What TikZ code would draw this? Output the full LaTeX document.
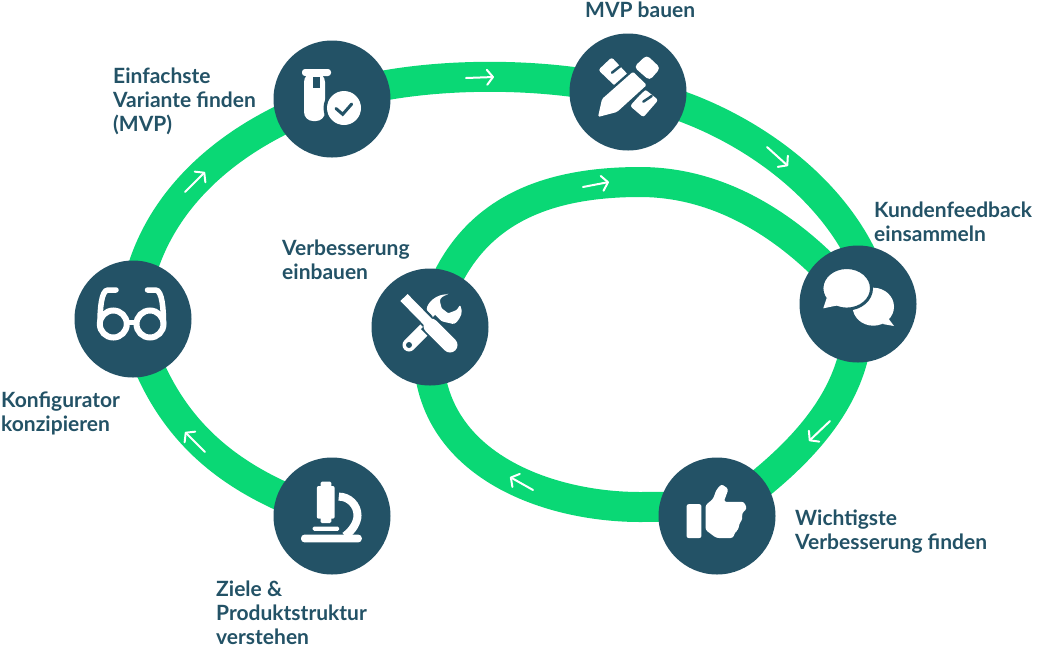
\documentclass[tikz,border=0pt]{standalone}
\usepackage{fontspec}
\setmainfont{Lato}
\usetikzlibrary{arrows.meta,backgrounds}
\definecolor{teal}{HTML}{235266}
\definecolor{loopgreen}{HTML}{0AD875}
\tikzset{
  stage/.style={circle, fill=teal, minimum size=117pt, inner sep=0pt},
  ring/.style={draw=loopgreen, line width=30pt},
  flow/.style={-{Straight Barb[length=6pt, width=15pt, round]}, draw=white, line width=2pt, line cap=round},
  stagetxt/.style={text=teal, font=\fontsize{21}{24}\selectfont\bfseries, align=left, inner sep=0pt, anchor=west},
  icon/.style={fill=white, draw=none},
  iconline/.style={draw=white, fill=none, line cap=round},
  cutline/.style={draw=teal, fill=none, line cap=round},
}
\newcommand{\icontube}[1]{\begin{scope}[shift={(#1.center)}]
  \fill[icon, rounded corners=3pt] (-30,-30) rectangle (-1,-23);
  \fill[icon, rounded corners=9pt] (-28,-26) rectangle (-7,22);
  \fill[teal] (-19,-22) rectangle (-12,-11);
  \fill[teal] (12,9) circle[radius=20.5];
  \fill[icon] (12,9) circle[radius=17];
  \draw[cutline, line width=3pt] (4,9.5) -- (10.7,15.3) -- (19.7,5);
\end{scope}}
\newcommand{\iconpencil}[1]{\begin{scope}[shift={(#1.center)}]
  \fill[icon, rounded corners=2.5pt] (-29.7,-22) -- (-16.3,-34.7) -- (0.3,-17) -- (-13,-6) -- cycle;
  \draw[cutline, line width=2.5pt] (-16,-19.3) -- (-6.3,-27);
  \fill[icon, rounded corners=2.5pt] (2,14) -- (17,-2.7) -- (30.3,8) -- (15.3,25.3) -- cycle;
  \draw[cutline, line width=2.5pt] (15.3,9.7) -- (23.7,4);
  \fill[teal] (-27.6,5.1) -- (3.4,-22.2) -- (20.5,-5) -- (-9.2,22) -- cycle;
  \fill[icon, rounded corners=1.5pt] (-26,7) -- (5,-20.3) -- (18.7,-7) -- (-11,20) -- (-30,25) -- cycle;
  \fill[icon, rounded corners=4pt] (6,-25) -- (18.7,-37) -- (32.5,-24) -- (21.5,-11.5) -- cycle;
\end{scope}}
\newcommand{\iconchat}[1]{\begin{scope}[shift={(#1.center)}]
  \fill[icon] (15.3,2.7) ellipse[x radius=20.7, y radius=19];
  \fill[icon] (30.3,14.3) -- (36,22) -- (24.7,20) -- cycle;
  \filldraw[fill=white, draw=teal, line width=3pt] (-11.3,-15.7) ellipse[x radius=24.8, y radius=20.8];
  \fill[icon] (-31.3,-6) -- (-34.7,4.3) -- (-21,1.5) -- cycle;
\end{scope}}
\newcommand{\iconthumb}[1]{\begin{scope}[shift={(#1.center)}]
  \fill[icon, rounded corners=2pt] (-30.4,-11.8) rectangle (-15.6,22);
  \fill[icon, rounded corners=2.5pt] (-11.5,-10.8) -- (-4,-17) -- (-0.7,-26) -- (4.4,-32) -- (11.5,-27) -- (6.8,-14.2)
    -- (27,-14.2) -- (30,-7.4) -- (24.7,-2.4) -- (25.7,2.7) -- (22.3,7.8) -- (21.3,13.9) -- (17.9,16.2)
    -- (16.2,22) -- (-0.7,22) -- (-11.5,13.9) -- cycle;
\end{scope}}
\newcommand{\icontools}[1]{\begin{scope}[shift={(#1.center)}]
  \draw[iconline, line width=13pt] (-21,18) -- (2,-5);
  \fill[teal] (-21,18) circle[radius=3];
  \fill[icon, rounded corners=1pt] (18.3,-32.7) .. controls (13,-31) and (10,-29) .. (10,-25.3) -- (11.7,-18.7)
    -- (18.3,-13.7) -- (26.7,-17) -- (30,-22) .. controls (32,-18) and (32,-15) .. (31,-12)
    .. controls (29,-7) and (26,-4) .. (23.3,-3) -- (13.3,-5.3) -- (5,-8.7) -- (-3.3,-17)
    .. controls (-3,-24) and (6,-33) .. (18.3,-32.7) -- cycle;
  \draw[cutline, line width=14pt, line cap=butt] (-26,-29) -- (-2,-5);
  \draw[cutline, line width=20pt, line cap=butt] (-2,-5) -- (24,21);
  \draw[iconline, line width=10pt, line cap=butt] (-26,-29.5) -- (-2,-5);
  \draw[iconline, line width=15pt] (1,-1) -- (20,18);
\end{scope}}
\newcommand{\iconglasses}[1]{\begin{scope}[shift={(#1.center)}]
  \draw[iconline, line width=6pt] (-19.7,5) circle[radius=13.5];
  \draw[iconline, line width=6pt] (17,5) circle[radius=13.5];
  \draw[iconline, line width=5pt] (-6,3) -- (3.5,3);
  \draw[iconline, line width=5.5pt] (-33,4) .. controls (-33,-8) and (-32,-29) .. (-25,-29) -- (-17,-29);
  \draw[iconline, line width=5.5pt] (30.5,4) .. controls (30.5,-8) and (29.5,-29) .. (22.5,-29) -- (14.5,-29);
\end{scope}}
\newcommand{\iconscope}[1]{\begin{scope}[shift={(#1.center)}]
  \fill[icon, rounded corners=2pt] (-15.2,-30) rectangle (2.7,2.7);
  \fill[icon, rounded corners=1.5pt] (-11.5,-34.5) rectangle (-0.7,7.1);
  \fill[icon, rounded corners=1.5pt] (-19.3,10.5) rectangle (7.1,14.9);
  \fill[icon, rounded corners=3.5pt] (-31,18.6) rectangle (29.8,26.4);
  \draw[iconline, line width=8pt, line cap=butt] (6.8,-19.4) .. controls (17,-19.4) and (25.5,-11) .. (25.5,-0.7)
    .. controls (25.5,6) and (21,14) .. (13,20);
\end{scope}}

\begin{document}
\begin{tikzpicture}[x=1pt, y=-1pt]
  \useasboundingbox (0,0) rectangle (1045,649);

  \node[stage] (scope)    at (332,516) {};
  \node[stage] (glasses)  at (133,319) {};
  \node[stage] (tube)     at (332, 99) {};
  \node[stage] (pencil)   at (628, 92) {};
  \node[stage] (chat)     at (858,304) {};
  \node[stage] (thumb)    at (717,516) {};
  \node[stage] (tools)    at (430,327) {};

  \begin{scope}[on background layer]
    \draw[ring] (scope.center) .. controls (250,488) and (165,445) .. (glasses.center);
    \draw[ring] (glasses.center) .. controls (140,215) and (218,138) .. (tube.center);
    \draw[ring] (tube.center) .. controls (400,74) and (530,68) .. (pencil.center);
    \draw[ring] (pencil.center) .. controls (710,105) and (830,170) .. (870,275) -- (chat.center);
    \draw[ring] (chat.center) .. controls (862,375) and (828,440) .. (thumb.center);
    \draw[ring] (thumb.center) .. controls (690,505) and (665,507) .. (640,507)
      .. controls (540,507) and (412,458) .. (tools.center);
    \draw[ring] (tools.center) .. controls (455,225) and (525,182) .. (640,182)
      .. controls (725,182) and (800,232) .. (chat.center);
  \end{scope}

  \icontube{tube}
  \iconpencil{pencil}
  \iconchat{chat}
  \iconthumb{thumb}
  \icontools{tools}
  \iconglasses{glasses}
  \iconscope{scope}

  % small arrows on the loop
  \foreach \name/\xa/\ya/\xb/\yb in {top/466/78/494/77, right/767/147/788/166, inner/583/187/609/182,
      left/185/192/205/172, down/830/421/809/441, under/533/490/510/477, back/205/452/185/432}{
    \coordinate (\name a) at (\xa,\ya);
    \coordinate (\name b) at (\xb,\yb);
    \draw[flow] (\name a) -- (\name b);
  }

  \node[stagetxt] (txtmvp)     at (585, 10) {MVP bauen};
  \node[stagetxt] (txttube)    at (113,101) {Einfachste\\Variante finden\\(MVP)};
  \node[stagetxt] (txtchat)    at (874,222) {Kundenfeedback\\einsammeln};
  \node[stagetxt] (txttools)   at (282,260) {Verbesserung\\einbauen};
  \node[stagetxt] (txtglasses) at (1,413)   {Konfigurator\\konzipieren};
  \node[stagetxt] (txtthumb)   at (795,532) {Wichtigste\\Verbesserung finden};
  \node[stagetxt] (txtscope)   at (216,613) {Ziele \&\\Produktstruktur\\verstehen};

\end{tikzpicture}
\end{document}
